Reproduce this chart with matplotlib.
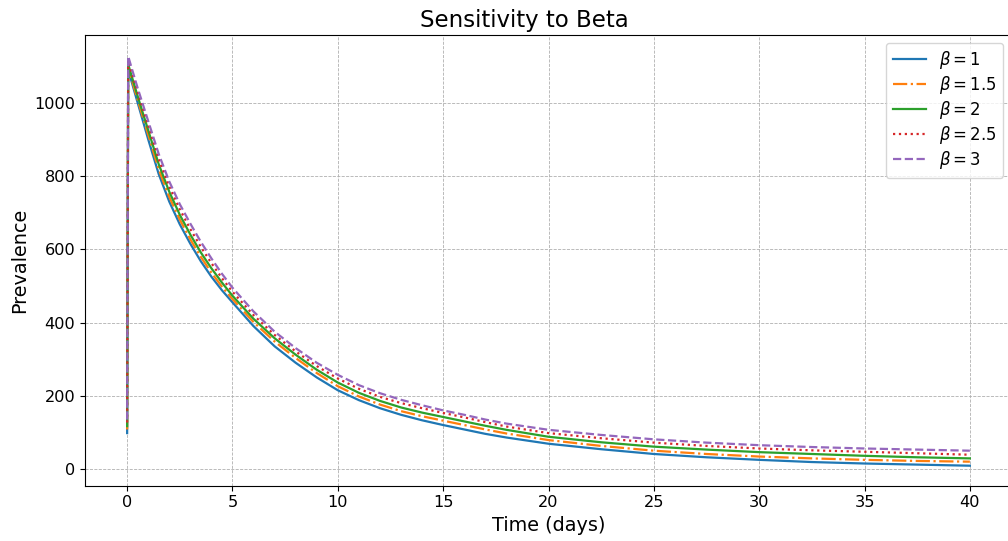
import matplotlib
matplotlib.use("Agg")
import matplotlib.pyplot as plt

# Time points (days)
time = [0, 0.05, 0.25, 0.5, 0.75, 1, 1.5, 2, 2.5, 3, 3.5, 4, 4.5, 5, 6, 7, 8, 9, 10,
        11, 12, 13, 14, 15, 16, 17, 18, 20, 22.5, 25, 27.5, 30, 32.5, 35, 37.5, 40]

# Prevalence for each beta value
prev_b1 = [98, 1090, 1050, 1000, 950, 900, 805, 730, 668, 615, 567, 525, 488, 455, 390, 335, 290, 250, 215,
           188, 166, 148, 133, 120, 108, 96, 86, 69, 54, 41, 32, 25, 19, 15, 12, 9]
prev_b15 = [108, 1097, 1057, 1008, 960, 913, 818, 743, 681, 627, 579, 536, 498, 464, 401, 348, 303, 262, 226,
            198, 176, 158, 144, 132, 120, 108, 97, 79, 63, 50, 41, 34, 29, 25, 22, 20]
prev_b2 = [117, 1105, 1066, 1018, 971, 925, 832, 757, 694, 640, 591, 548, 509, 473, 410, 357, 312, 271, 236,
           208, 186, 168, 154, 142, 130, 118, 107, 88, 73, 61, 53, 46, 41, 36, 32, 29]
prev_b25 = [127, 1115, 1076, 1030, 983, 938, 846, 771, 709, 655, 606, 562, 521, 484, 420, 366, 321, 281, 247,
            219, 197, 180, 166, 153, 141, 128, 116, 98, 84, 72, 63, 56, 51, 47, 43, 39]
prev_b3 = [135, 1127, 1088, 1040, 995, 950, 860, 785, 723, 670, 620, 575, 533, 495, 430, 375, 330, 290, 257,
           229, 207, 189, 174, 160, 148, 135, 124, 107, 93, 81, 72, 65, 60, 56, 53, 50]

labels = [r"$\beta = 1$", r"$\beta = 1.5$", r"$\beta = 2$", r"$\beta = 2.5$", r"$\beta = 3$"]
series = [prev_b1, prev_b15, prev_b2, prev_b25, prev_b3]
styles = ["-", "-.", "-", ":", "--"]
colors = ["#1f77b4", "#ff7f0e", "#2ca02c", "#d62728", "#9467bd"]

W, H = 1008, 541
fig = plt.figure(figsize=(W / 100, H / 100), dpi=100)
left, right, top, bottom = 85, 1012, 35, 485.7
ax = fig.add_axes([left / W, 1 - bottom / H, (right - left) / W, (bottom - top) / H])

for y, lab, ls, c in zip(series, labels, styles, colors):
    ax.plot(time, y, linestyle=ls, color=c, label=lab, linewidth=1.6)

ax.set_xlim(-2, 42)
ax.set_ylim(-45.6, 1185)
ax.set_xticks([0, 5, 10, 15, 20, 25, 30, 35, 40])
ax.set_yticks([0, 200, 400, 600, 800, 1000])
ax.tick_params(labelsize=11.6)
ax.grid(True, linestyle="--", linewidth=0.6, color="#b0b0b0")
ax.set_xlabel("Time (days)", fontsize=13.9)
ax.set_ylabel("Prevalence", fontsize=13.9)
ax.set_title("Sensitivity to Beta", fontsize=16.5, x=(524.5 - left) / (right - left))

ax.legend(loc="upper right", bbox_to_anchor=(1003 / W, 1 - 42.5 / H),
          bbox_transform=fig.transFigure, borderaxespad=0, fontsize=11.9,
          labelspacing=0.18)

fig.savefig("out.png", dpi=100)
